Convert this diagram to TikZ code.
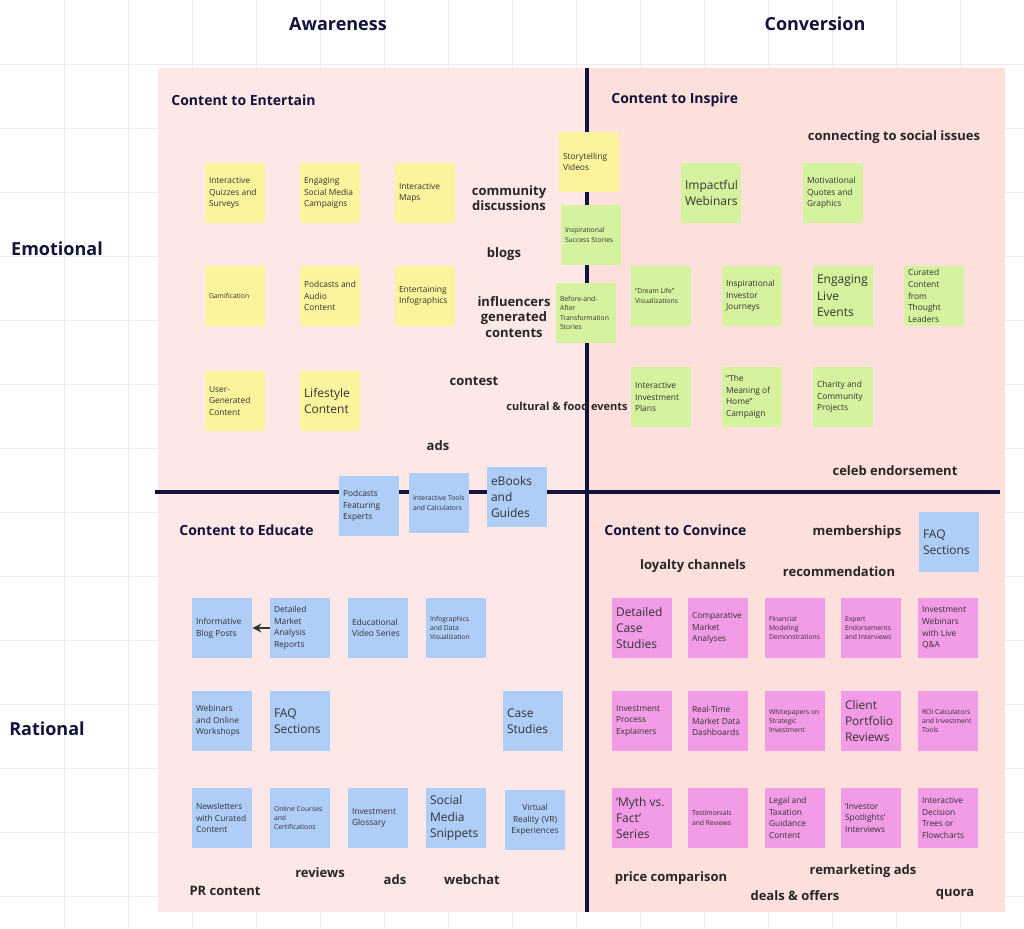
\documentclass[tikz,border=0pt]{standalone}
\usepackage{fontspec}
\setmainfont{Open Sans}
\usetikzlibrary{arrows}
\hyphenpenalty=10000
\definecolor{gridc}{HTML}{ECECEC}
\definecolor{pinkL}{HTML}{FDE7E7}
\definecolor{pinkR}{HTML}{FDE0DC}
\definecolor{navy}{HTML}{12123A}
\definecolor{yel}{HTML}{FBF49C}
\definecolor{grn}{HTML}{D5F29E}
\definecolor{blu}{HTML}{AECDF7}
\definecolor{pnk}{HTML}{F29BE6}
\tikzset{
  note/.style={minimum width=30pt,minimum height=30pt,text width=26pt,inner sep=1.5pt,align=flush left,
    font=\fontsize{4.2}{5.8}\selectfont,text=black!80},
  big/.style={font=\fontsize{6}{8.2}\selectfont},
  tiny/.style={font=\fontsize{3.4}{4.6}\selectfont},
  yn/.style={note,fill=yel},
  gn/.style={note,fill=grn},
  bn/.style={note,fill=blu},
  pn/.style={note,fill=pnk},
  word/.style={font=\bfseries\fontsize{6.5}{7.6}\selectfont,text=black!85,align=center},
  head/.style={font=\bfseries\fontsize{7}{8}\selectfont,text=navy,inner sep=0pt},
  axis/.style={font=\bfseries\fontsize{9}{10}\selectfont,text=navy},
}
\begin{document}
\hyphenpenalty=10000
\begin{tikzpicture}[x=0.5pt,y=-0.5pt]
\useasboundingbox (0,0) rectangle (1024,928);
\fill[white] (0,0) rectangle (1024,928);
\foreach \g in {64,128,...,1000} {
  \draw[gridc,line width=0.4pt] (\g,0) -- (\g,928);
  \draw[gridc,line width=0.4pt] (0,\g) -- (1024,\g);
}
\fill[pinkL] (158,68) rectangle (587,912);
\fill[pinkR] (587,68) rectangle (1005,912);
\draw[navy,line width=1.6pt] (587,68) -- (587,912);
\draw[navy,line width=1.6pt] (155,492) -- (1000,492);

% headings
\node[axis] (aw) at (338,24) {Awareness};
\node[axis] (cv) at (815,24) {Conversion};
\node[axis] (em) at (57,249) {Emotional};
\node[axis] (ra) at (47,729) {Rational};
\node[head,anchor=west] (ent) at (171,100) {Content to Entertain};
\node[head,anchor=west] (ins) at (611,100) {Content to Inspire};
\node[head,anchor=west] (edu) at (179,530) {Content to Educate};
\node[head,anchor=west] (cvc) at (604,530) {Content to Convince};

% yellow notes
\node[yn] (y1) at (235,193) {Interactive Quizzes and Surveys};
\node[yn] (y2) at (330,193) {Engaging Social Media Campaigns};
\node[yn] (y3) at (425,193) {Interactive Maps};
\node[yn] (y4) at (589,162) {Storytelling Videos};
\node[yn,tiny] (y5) at (235,296) {Gamification};
\node[yn] (y6) at (330,296) {Podcasts and Audio Content};
\node[yn] (y7) at (425,296) {Entertaining Infographics};
\node[yn] (y8) at (235,401) {User-Generated Content};
\node[yn,big] (y9) at (330,401) {Lifestyle Content};

% green notes
\node[gn,tiny] (g1) at (591,235) {Inspirational Success Stories};
\node[gn,tiny] (g2) at (586,313) {Before-and-After Transformation Stories};
\node[gn,big] (g3) at (711,193) {Impactful Webinars};
\node[gn] (g4) at (833,193) {Motivational Quotes and Graphics};
\node[gn,tiny] (g5) at (661,296) {“Dream Life” Visualizations};
\node[gn] (g6) at (752,296) {Inspirational Investor Journeys};
\node[gn,big] (g7) at (843,296) {Engaging Live Events};
\node[gn] (g8) at (934,296) {Curated Content from Thought Leaders};
\node[gn] (g9) at (661,397) {Interactive Investment Plans};
\node[gn] (g10) at (752,397) {“The Meaning of Home” Campaign};
\node[gn] (g11) at (843,397) {Charity and Community Projects};

% blue notes
\node[bn] (b1) at (369,506) {Podcasts Featuring Experts};
\node[bn,tiny] (b2) at (439,503) {Interactive Tools and Calculators};
\node[bn,big] (b3) at (517,497) {eBooks and Guides};
\node[bn,big] (b4) at (949,542) {FAQ Sections};
\node[bn] (b5) at (222,628) {Informative Blog Posts};
\node[bn] (b6) at (300,628) {Detailed Market Analysis Reports};
\node[bn] (b7) at (378,628) {Educational Video Series};
\node[bn,tiny] (b8) at (456,628) {Infographics and Data Visualization};
\node[bn] (b9) at (222,721) {Webinars and Online Workshops};
\node[bn,big] (b10) at (300,721) {FAQ Sections};
\node[bn,big] (b11) at (533,721) {Case Studies};
\node[bn] (b12) at (222,818) {Newsletters with Curated Content};
\node[bn,tiny] (b13) at (300,818) {Online Courses and Certifications};
\node[bn] (b14) at (378,818) {Investment Glossary};
\node[bn,big] (b15) at (456,818) {Social Media Snippets};
\node[bn,align=center] (b16) at (535,820) {Virtual Reality (VR) Experiences};
\draw[-stealth,line width=1pt,black!80] (b6) -- (b5);

% pink notes
\node[pn,big] (p1) at (642,628) {Detailed Case Studies};
\node[pn] (p2) at (718,628) {Comparative Market Analyses};
\node[pn,tiny] (p3) at (795,628) {Financial Modeling Demonstrations};
\node[pn,tiny] (p4) at (871,628) {Expert Endorsements and Interviews};
\node[pn] (p5) at (948,628) {Investment Webinars with Live Q\&A};
\node[pn] (p6) at (642,721) {Investment Process Explainers};
\node[pn] (p7) at (718,721) {Real-Time Market Data Dashboards};
\node[pn,tiny] (p8) at (795,721) {Whitepapers on Strategic Investment};
\node[pn,big] (p9) at (871,721) {Client Portfolio Reviews};
\node[pn,tiny] (p10) at (948,721) {ROI Calculators and Investment Tools};
\node[pn,big] (p11) at (642,818) {‘Myth vs. Fact’ Series};
\node[pn,tiny] (p12) at (718,818) {Testimonials and Reviews};
\node[pn] (p13) at (795,818) {Legal and Taxation Guidance Content};
\node[pn] (p14) at (871,818) {‘Investor Spotlights’ Interviews};
\node[pn] (p15) at (948,818) {Interactive Decision Trees or Flowcharts};

% loose words
\node[word] (w1) at (509,198) {community\\discussions};
\node[word] (w2) at (504,254) {blogs};
\node[word] (w3) at (514,317) {influencers\\generated\\contents};
\node[word] (w4) at (474,381) {contest};
\node[word,font=\bfseries\fontsize{5.5}{6.5}\selectfont] (w5) at (567,406) {cultural \& food events};
\node[word] (w6) at (438,446) {ads};
\node[word] (w7) at (894,137) {connecting to social issues};
\node[word] (w8) at (895,471) {celeb endorsement};
\node[word] (w9) at (857,532) {memberships};
\node[word] (w10) at (693,566) {loyalty channels};
\node[word] (w11) at (839,572) {recommendation};
\node[word] (w12) at (225,891) {PR content};
\node[word] (w13) at (320,873) {reviews};
\node[word] (w14) at (395,880) {ads};
\node[word] (w15) at (472,880) {webchat};
\node[word] (w16) at (671,878) {price comparison};
\node[word] (w17) at (863,871) {remarketing ads};
\node[word] (w18) at (795,896) {deals \& offers};
\node[word] (w19) at (955,894) {quora};
\end{tikzpicture}
\end{document}
